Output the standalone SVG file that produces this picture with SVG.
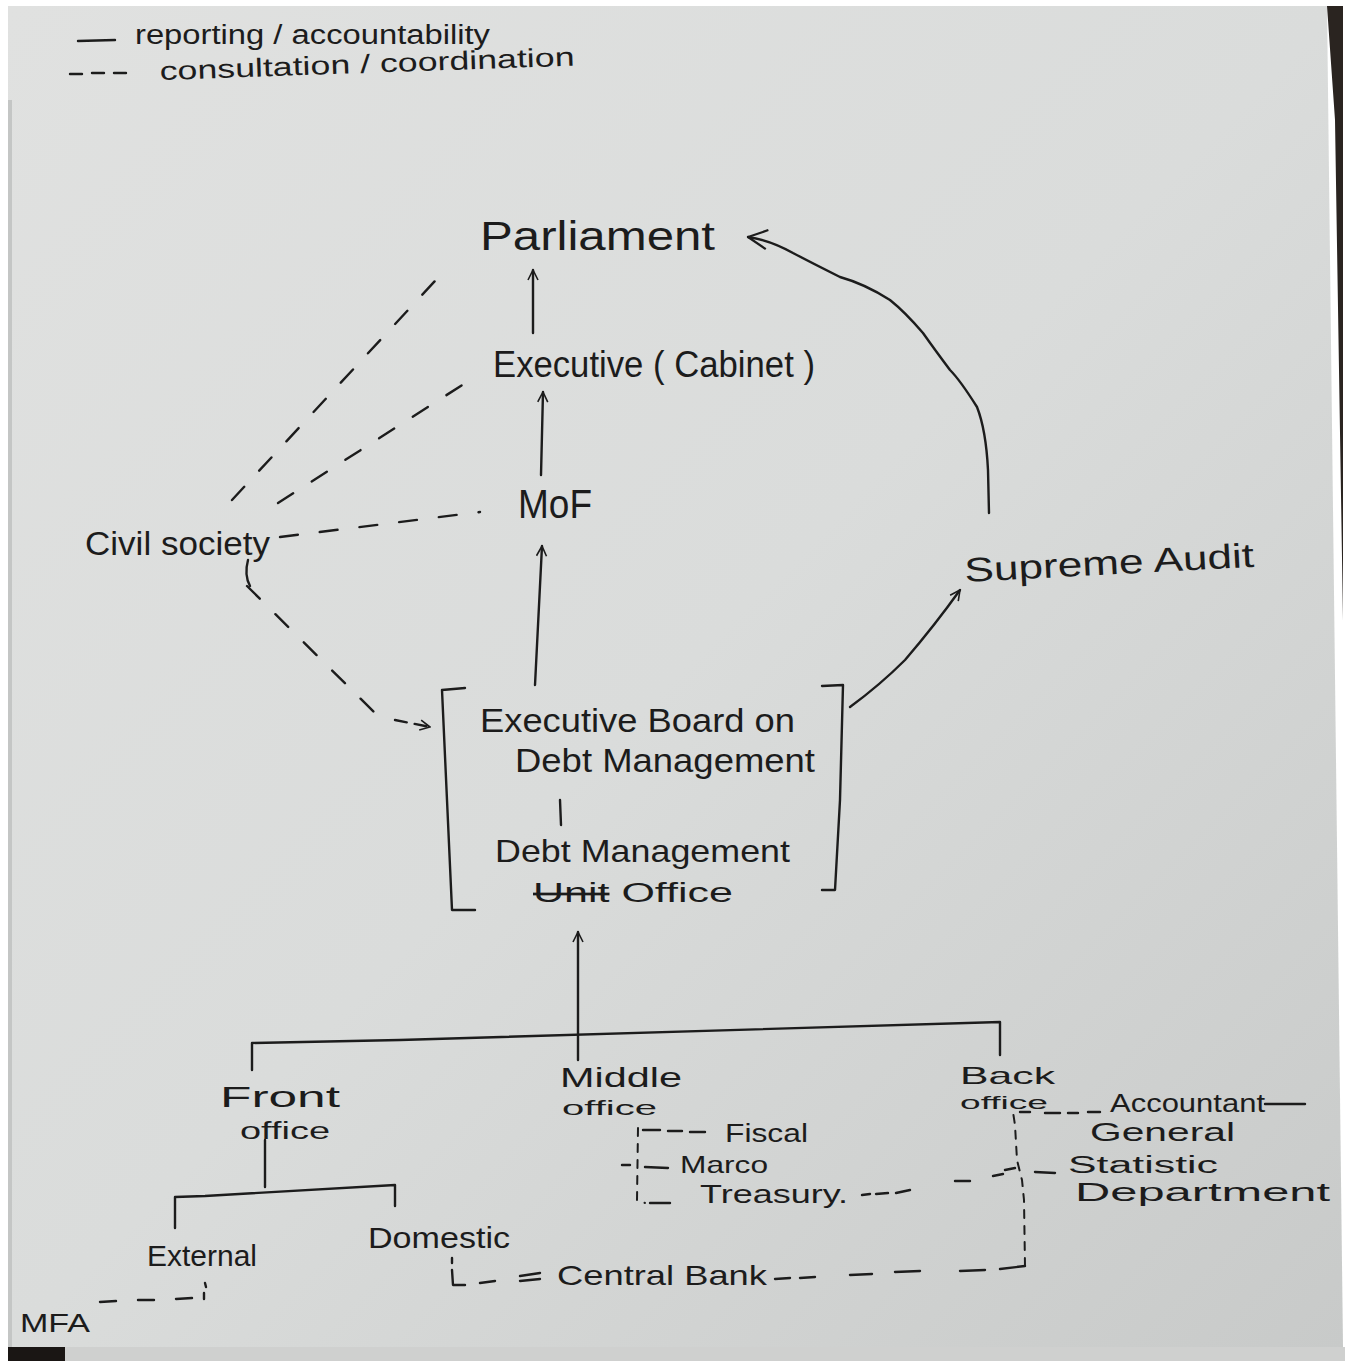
<svg xmlns="http://www.w3.org/2000/svg" width="1353" height="1361" viewBox="0 0 1353 1361">
<defs>
<linearGradient id="paper" x1="0" y1="0" x2="1" y2="1">
<stop offset="0" stop-color="#e0e1e0"/>
<stop offset="0.5" stop-color="#dadcdb"/>
<stop offset="1" stop-color="#c8cac9"/>
</linearGradient>
<marker id="arr" viewBox="0 0 12 12" refX="11" refY="6" markerWidth="12" markerHeight="12" markerUnits="userSpaceOnUse" orient="auto">
<path d="M1,1 L11,6 L1,11" fill="none" stroke="#1c1c1c" stroke-width="1.6"/>
</marker>
<marker id="arrL" viewBox="0 0 16 16" refX="15" refY="8" markerWidth="22" markerHeight="22" markerUnits="userSpaceOnUse" orient="auto">
<path d="M1,1 L15,8 L1,15" fill="none" stroke="#1c1c1c" stroke-width="1.6"/>
</marker>
</defs>
<style>
text{font-family:"Liberation Sans","DejaVu Sans",sans-serif;fill:#1c1c1c}
.s{fill:none;stroke:#1c1c1c;stroke-width:2.4;stroke-linecap:round;stroke-linejoin:round}
.d{fill:none;stroke:#1c1c1c;stroke-width:2.4;stroke-linecap:round;stroke-dasharray:18 22}
.ds{fill:none;stroke:#1c1c1c;stroke-width:2;stroke-linecap:round;stroke-dasharray:8 8}
</style>
<rect x="0" y="0" width="1353" height="1361" fill="#ffffff"/>
<path d="M8,6 L1327,6 L1343,1347 L8,1347 Z" fill="url(#paper)"/>
<path d="M1327,6 L1343,6 L1343,620 L1335,120 Z" fill="#2a2420"/>
<rect x="8" y="1347" width="1337" height="14" fill="#cfd0cf"/>
<rect x="8" y="1347" width="57" height="14" fill="#1a1614"/>
<rect x="8" y="100" width="4" height="1247" fill="#c4c6c5"/>

<g id="legend">
<path class="s" d="M78,41 L115,40" stroke-width="3"/>
<text x="135" y="44" font-size="27" textLength="355" lengthAdjust="spacingAndGlyphs">reporting / accountability</text>
<path class="s" d="M70,74 L82,74 M92,73 L104,73 M114,73 L126,73"/>
<text x="160" y="80" font-size="26" textLength="415" lengthAdjust="spacingAndGlyphs" transform="rotate(-2 160 80)">consultation / coordination</text>
</g>

<g id="connectors">
<path class="s" d="M533,333 L533,270" marker-end="url(#arr)"/>
<path class="s" d="M541,475 L543,392" marker-end="url(#arr)"/>
<path class="s" d="M535,685 L542,546" marker-end="url(#arr)"/>
<path class="s" d="M578,1060 L578,932" marker-end="url(#arr)"/>
<path class="s" d="M989,513 L988,470 Q986,430 977,407 Q960,380 950,370 Q935,350 923,333 Q905,312 890,300 Q865,284 840,277 Q810,262 793,253 Q770,240 748,237" marker-end="url(#arrL)"/>
<path class="s" d="M850,707 Q880,685 905,660 Q935,625 960,590" marker-end="url(#arr)"/>
<path class="s" d="M560,800 L561,825"/>
<path class="s" d="M252,1070 L252,1043 L400,1040 L1000,1022 L1000,1055"/>
<path class="s" d="M265,1140 L265,1187 M175,1228 L175,1197 L205,1196 L395,1185 L395,1206"/>
<path class="d" d="M232,500 L447,268"/>
<path class="d" d="M278,503 L470,380"/>
<path class="d" d="M280,537 L480,512"/>
<path class="d" d="M247,586 L380,718"/>
<path class="s" d="M395,720 L430,727" stroke-dasharray="12 8" marker-end="url(#arr)"/>
<path class="s" d="M248,560 Q244,575 250,586"/>
<path class="s" d="M100,1302 L116,1301 M138,1300 L154,1300 M176,1299 L192,1298"/>
<path class="s" d="M205,1283 L206,1287 M204,1293 L204,1299"/>
<path class="s" d="M452,1258 L452,1263 M452,1270 L453,1285 L465,1285 M480,1283 L495,1281 M520,1276 L540,1273 M520,1281 L540,1279"/>
<path class="s" d="M775,1279 L790,1278 M800,1278 L815,1277 M850,1275 L872,1274 M895,1272 L920,1271 M960,1271 L985,1270 M1000,1269 L1025,1266"/>
<path class="ds" d="M1025,1266 L1024,1200 L1022,1180 L1017,1160 L1015,1125 L1013,1112"/>
<path class="ds" d="M638,1128 L637,1200 L645,1203"/>
<path class="s" d="M643,1130 L660,1130 M668,1131 L682,1131 M690,1132 L705,1132"/>
<path class="s" d="M622,1165 L630,1165 M645,1167 L668,1168"/>
<path class="s" d="M650,1203 L670,1203"/>
<path class="s" d="M862,1195 L870,1194 M876,1194 L888,1193 M896,1193 L910,1190 M955,1181 L970,1181 M993,1176 L1003,1174"/>
<path class="s" d="M1020,1112 L1030,1112 M1045,1113 L1060,1113 M1068,1113 L1078,1113 M1088,1112 L1100,1112 M1265,1104 L1305,1104"/>
<path class="s" d="M1005,1170 L1015,1168 M1035,1172 L1055,1173"/>
</g>

<g id="parliament"><text x="480" y="250" font-size="40" textLength="235" lengthAdjust="spacingAndGlyphs">Parliament</text></g>
<g id="executive-cabinet"><text x="493" y="377" font-size="36" textLength="322" lengthAdjust="spacingAndGlyphs">Executive ( Cabinet )</text></g>
<g id="mof"><text x="518" y="518" font-size="40" textLength="74" lengthAdjust="spacingAndGlyphs">MoF</text></g>
<g id="civil-society"><text x="85" y="555" font-size="34" textLength="185" lengthAdjust="spacingAndGlyphs">Civil society</text></g>
<g id="supreme-audit"><text x="965" y="582" font-size="34" textLength="290" lengthAdjust="spacingAndGlyphs" transform="rotate(-3 965 582)">Supreme Audit</text></g>

<g id="debt-board">
<path class="s" d="M465,688 L442,690 L447,800 L452,910 L475,910"/>
<path class="s" d="M822,686 L843,685 L840,800 L835,890 L822,890"/>
<text x="480" y="732" font-size="34" textLength="315" lengthAdjust="spacingAndGlyphs">Executive Board on</text>
<text x="515" y="772" font-size="34" textLength="300" lengthAdjust="spacingAndGlyphs">Debt Management</text>
<text x="495" y="862" font-size="32" textLength="295" lengthAdjust="spacingAndGlyphs">Debt Management</text>
<text x="533" y="902" font-size="27" textLength="200" lengthAdjust="spacingAndGlyphs"><tspan text-decoration="line-through">Unit</tspan> Office</text>
</g>

<g id="front-office">
<text x="220" y="1107" font-size="30" textLength="120" lengthAdjust="spacingAndGlyphs">Front</text>
<text x="240" y="1139" font-size="23" textLength="90" lengthAdjust="spacingAndGlyphs">office</text>
</g>
<g id="middle-office">
<text x="560" y="1087" font-size="27" textLength="122" lengthAdjust="spacingAndGlyphs">Middle</text>
<text x="562" y="1115" font-size="20" textLength="95" lengthAdjust="spacingAndGlyphs">office</text>
</g>
<g id="back-office">
<text x="960" y="1084" font-size="24" textLength="95" lengthAdjust="spacingAndGlyphs">Back</text>
<text x="960" y="1109" font-size="18" textLength="88" lengthAdjust="spacingAndGlyphs">office</text>
</g>
<g id="external"><text x="147" y="1266" font-size="30" textLength="110" lengthAdjust="spacingAndGlyphs">External</text></g>
<g id="domestic"><text x="368" y="1248" font-size="30" textLength="142" lengthAdjust="spacingAndGlyphs">Domestic</text></g>
<g id="mfa"><text x="20" y="1332" font-size="26" textLength="70" lengthAdjust="spacingAndGlyphs">MFA</text></g>
<g id="fiscal"><text x="725" y="1142" font-size="26" textLength="83" lengthAdjust="spacingAndGlyphs">Fiscal</text></g>
<g id="marco"><text x="680" y="1173" font-size="24" textLength="88" lengthAdjust="spacingAndGlyphs">Marco</text></g>
<g id="treasury"><text x="700" y="1203" font-size="26" textLength="148" lengthAdjust="spacingAndGlyphs">Treasury.</text></g>
<g id="accountant-general">
<text x="1110" y="1112" font-size="25" textLength="155" lengthAdjust="spacingAndGlyphs">Accountant</text>
<text x="1090" y="1141" font-size="25" textLength="145" lengthAdjust="spacingAndGlyphs">General</text>
</g>
<g id="statistic-department">
<text x="1068" y="1173" font-size="23" textLength="150" lengthAdjust="spacingAndGlyphs">Statistic</text>
<text x="1075" y="1201" font-size="25" textLength="255" lengthAdjust="spacingAndGlyphs">Department</text>
</g>
<g id="central-bank"><text x="557" y="1285" font-size="28" textLength="210" lengthAdjust="spacingAndGlyphs">Central Bank</text></g>
</svg>
